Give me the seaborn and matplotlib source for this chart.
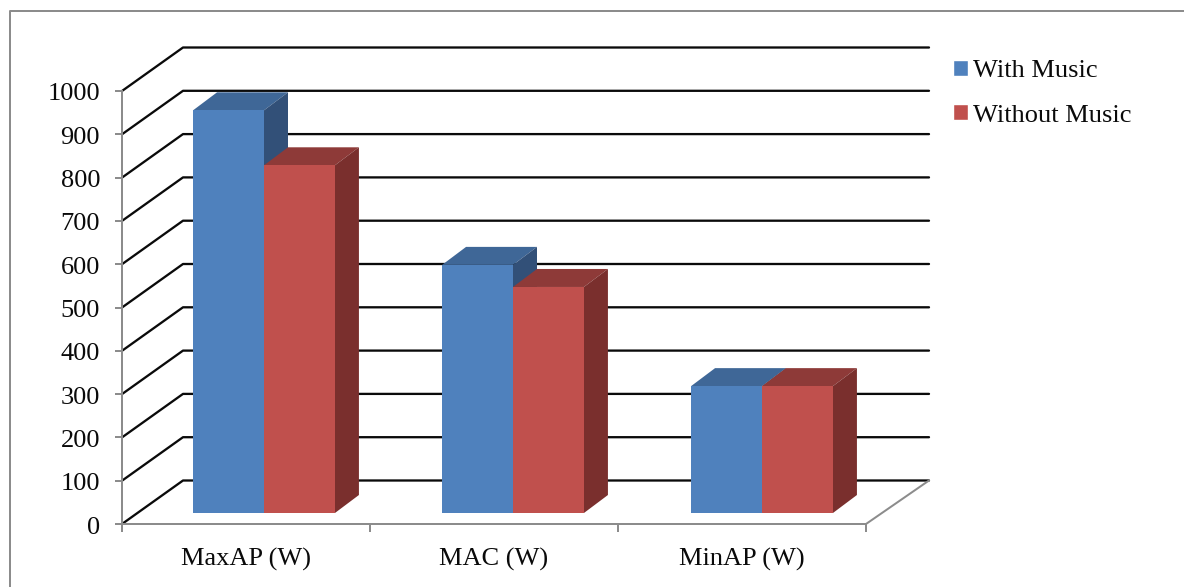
import matplotlib
matplotlib.use('Agg')
import matplotlib.pyplot as plt
import pandas as pd
import seaborn as sns
from matplotlib.lines import Line2D
from matplotlib.patches import Polygon
from matplotlib.transforms import Affine2D

categories = ['MaxAP (W)', 'MAC (W)', 'MinAP (W)']
with_music = [930, 573, 293]
without_music = [803, 522, 293]
y_ticks = list(range(0, 1001, 100))

W, H = 1184, 587
GREY = '#8c8c8c'
FONT = 19


def px(v):
    return v * 0.72  # пиксели в пункты при dpi=100


sns.set_theme(style='white')
plt.rcParams['font.family'] = ['Liberation Serif', 'DejaVu Serif']

df = pd.DataFrame({
    'category': categories * 2,
    'value': with_music + without_music,
    'series': ['With Music'] * 3 + ['Without Music'] * 3,
})

fig = plt.figure(figsize=(W / 100, H / 100), dpi=100)
ax = fig.add_axes([122 / W, 1 - 524 / H, (866 - 122) / W, (524 - 91) / H])

sns.barplot(
    data=df, x='category', y='value', hue='series', ax=ax,
    palette=['#4f81bd', '#c0504d'], width=0.572, gap=0,
    saturation=1, legend=True, zorder=5,
)
ax.set_xlim(-0.5, 2.5)
ax.set_ylim(0, 1000)
ax.set_xlabel('')
ax.set_ylabel('')

# стены графика: смещения в пикселях
WALL_DX, WALL_DY = 61, 43.5
for v in y_ticks:
    x0, y0 = ax.transData.transform((-0.5, v))
    x1, y1 = x0 + WALL_DX, y0 + WALL_DY
    x2, _ = ax.transData.transform((2.5, v))
    fig.add_artist(Line2D([x0, x1, x2 + WALL_DX + 2], [y0, y1, y1], transform=None,
                          color='#0a0a0a', lw=px(2.3), zorder=1))

# пол справа
x0, y0 = ax.transData.transform((2.5, 0))
fig.add_artist(Line2D([x0, x0 + WALL_DX + 2], [y0, y0 + WALL_DY], transform=None,
                      color=GREY, lw=px(2), zorder=2))

# столбцы: сдвиг от передней плоскости и объём
BAR_DX, BAR_DY = 18, 11
DEPTH_DX, DEPTH_DY = 24, 18
shades = {0: ('#3f6797', '#325078'), 1: ('#8e3a38', '#7a2f2d')}
for i, container in enumerate(ax.containers):
    for j, bar in enumerate(container):
        xa, ya = ax.transData.transform((bar.get_x(), 0))
        xb, yb = ax.transData.transform((bar.get_x() + bar.get_width(), bar.get_height()))
        xa, xb = xa + BAR_DX + j, xb + BAR_DX + j
        ya, yb = ya + BAR_DY, yb + BAR_DY
        top = [(xa, yb), (xb, yb), (xb + DEPTH_DX, yb + DEPTH_DY), (xa + DEPTH_DX, yb + DEPTH_DY)]
        side = [(xb, ya), (xb, yb), (xb + DEPTH_DX, yb + DEPTH_DY), (xb + DEPTH_DX, ya + DEPTH_DY)]
        z = 3 + i * 0.5
        fig.add_artist(Polygon(top, closed=True, transform=None, fc=shades[i][0], ec='none', zorder=z))
        fig.add_artist(Polygon(side, closed=True, transform=None, fc=shades[i][1], ec='none', zorder=z))
        fig.add_artist(Polygon([(xa, ya), (xb, ya), (xb, yb), (xa, yb)], closed=True, transform=None,
                               fc=bar.get_facecolor(), ec='none', zorder=4))
        bar.set_visible(False)

# оси
sns.despine(ax=ax, top=True, right=True)
ax.patch.set_visible(False)
ax.set_zorder(6)
for side_name in ['left', 'bottom']:
    ax.spines[side_name].set_color(GREY)
    ax.spines[side_name].set_linewidth(px(2))
ax.set_yticks(y_ticks)
ax.set_xticks([-0.5, 0.5, 1.5, 2.5], minor=True)
ax.tick_params(axis='y', which='major', left=True, length=px(7), width=px(2), color=GREY,
               labelsize=FONT, labelcolor='#0a0a0a', pad=px(15))
ax.tick_params(axis='x', which='major', length=0, labelsize=FONT, labelcolor='#0a0a0a', pad=px(24))
ax.tick_params(axis='x', which='minor', bottom=True, length=px(8), width=px(2), color=GREY)

for lbl in ax.get_yticklabels():
    lbl.set_transform(lbl.get_transform() + Affine2D().translate(0, -1))

# легенда
handles, labels = ax.get_legend_handles_labels()
ax.legend(
    handles, labels, loc='upper left', bbox_to_anchor=(953 / W, 1 - 60 / H),
    bbox_transform=fig.transFigure, frameon=False, fontsize=FONT, labelcolor='#0a0a0a',
    borderpad=0, borderaxespad=0, handlelength=0.55, handleheight=0.55, handletextpad=0.22,
    labelspacing=0.84,
)

# рамка картинки
fig.add_artist(Line2D([9.5 / W, 9.5 / W, 1], [0, 1 - 11 / H, 1 - 11 / H], color=GREY, lw=px(2)))

fig.savefig('out.png', dpi=100, facecolor='white')
